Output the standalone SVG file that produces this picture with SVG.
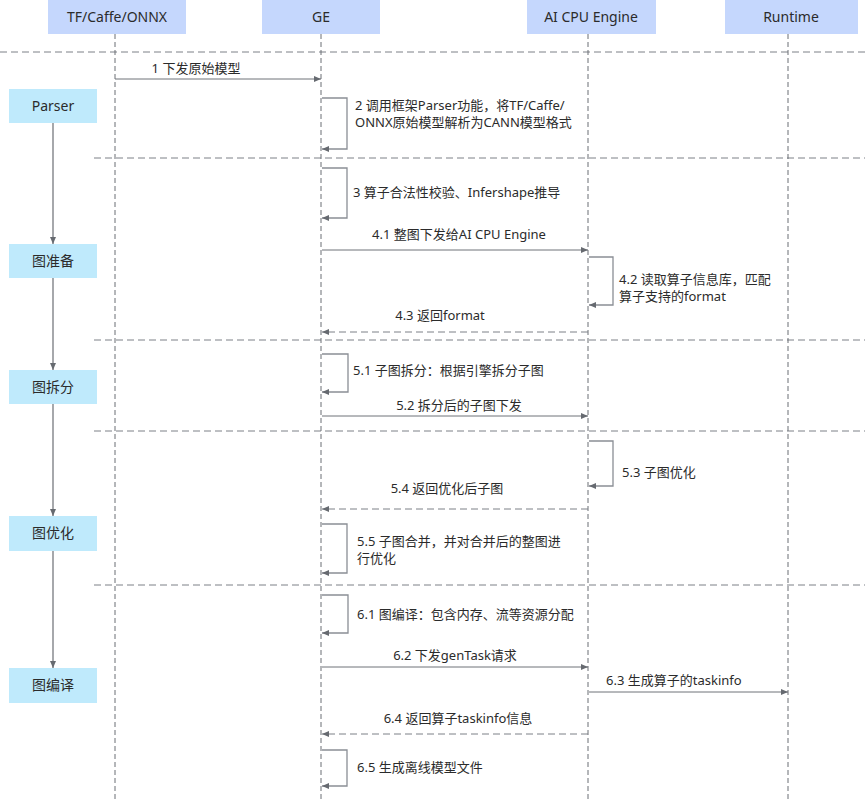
<svg xmlns="http://www.w3.org/2000/svg" width="865" height="803" viewBox="0 0 865 803">
<style>
text{font-family:"Noto Sans","Noto Sans CJK SC",sans-serif;fill:#2b2b2b;}
.hd{fill:#c5d7fd;}
.st{fill:#bfeafc;}
.ht{font-size:14px;text-anchor:middle;}
.lb{font-size:13px;}
.mid{text-anchor:middle;}
.life{stroke:#6b6e74;stroke-width:1;stroke-dasharray:5,3;fill:none;}
.sep{stroke:#7d8087;stroke-width:1;stroke-dasharray:7,4;fill:none;}
.msg{stroke:#6f7379;stroke-width:1;fill:none;marker-end:url(#ah);}
.ret{stroke:#7d8087;stroke-width:1;stroke-dasharray:7,4;fill:none;marker-end:url(#ah);}
.loop{stroke:#8a8e95;stroke-width:1.3;fill:none;marker-end:url(#ah);}
.flow{stroke:#6b6e74;stroke-width:1.2;fill:none;marker-end:url(#ah);}
</style>
<defs>
<marker id="ah" markerWidth="8" markerHeight="8" refX="7" refY="4" orient="auto" markerUnits="userSpaceOnUse">
<path d="M0,1 L7,4 L0,7 Z" fill="#666a70"/>
</marker>
</defs>
<rect width="865" height="803" fill="#ffffff"/>
<g id="separators">
<line class="sep" x1="0" y1="52" x2="865" y2="52"/>
<line class="sep" x1="94" y1="158" x2="865" y2="158"/>
<line class="sep" x1="94" y1="340" x2="865" y2="340"/>
<line class="sep" x1="94" y1="431" x2="865" y2="431"/>
<line class="sep" x1="94" y1="585" x2="865" y2="585"/>
</g>
<g id="lifelines">
<line class="life" x1="115" y1="34" x2="115" y2="800"/>
<line class="life" x1="321" y1="34" x2="321" y2="800"/>
<line class="life" x1="588" y1="34" x2="588" y2="800"/>
<line class="life" x1="788" y1="34" x2="788" y2="800"/>
</g>
<g id="p-tf"><rect class="hd" x="48" y="0" width="138" height="34"/><text class="ht" x="117" y="22">TF/Caffe/ONNX</text></g>
<g id="p-ge"><rect class="hd" x="262" y="0" width="118" height="34"/><text class="ht" x="321" y="22">GE</text></g>
<g id="p-aicpu"><rect class="hd" x="527" y="0" width="129" height="34"/><text class="ht" x="591" y="22">AI CPU Engine</text></g>
<g id="p-runtime"><rect class="hd" x="725" y="0" width="133" height="34"/><text class="ht" x="791" y="22">Runtime</text></g>
<g id="s-parser"><rect class="st" x="9" y="89" width="88" height="34"/><text class="ht" x="53" y="111">Parser</text></g>
<g id="s-prep"><rect class="st" x="9" y="244" width="88" height="34"/><text class="ht" x="53" y="266">图准备</text></g>
<g id="s-split"><rect class="st" x="9" y="370" width="88" height="34"/><text class="ht" x="53" y="392">图拆分</text></g>
<g id="s-opt"><rect class="st" x="9" y="516" width="88" height="35"/><text class="ht" x="53" y="538">图优化</text></g>
<g id="s-compile"><rect class="st" x="9" y="668" width="88" height="35"/><text class="ht" x="53" y="690">图编译</text></g>
<g id="connectors">
<line class="flow" x1="53" y1="123" x2="53" y2="244"/>
<line class="flow" x1="53" y1="278" x2="53" y2="370"/>
<line class="flow" x1="53" y1="404" x2="53" y2="516"/>
<line class="flow" x1="53" y1="551" x2="53" y2="668"/>
<line class="msg" x1="115" y1="79" x2="321" y2="79"/>
<polyline class="loop" points="322,98 347,98 347,149 322,149"/>
<polyline class="loop" points="322,168 347,168 347,218 322,218"/>
<line class="msg" x1="322" y1="250" x2="588" y2="250"/>
<polyline class="loop" points="589,257 613,257 613,305 589,305"/>
<line class="ret" x1="588" y1="332" x2="322" y2="332"/>
<polyline class="loop" points="322,354 348,354 348,392 322,392"/>
<line class="msg" x1="322" y1="416" x2="588" y2="416"/>
<polyline class="loop" points="589,441 613,441 613,486 589,486"/>
<line class="ret" x1="588" y1="509" x2="322" y2="509"/>
<polyline class="loop" points="322,524 347,524 347,573 322,573"/>
<polyline class="loop" points="322,595 348,595 348,633 322,633"/>
<line class="msg" x1="322" y1="667" x2="588" y2="667"/>
<line class="msg" x1="589" y1="692" x2="788" y2="692"/>
<line class="ret" x1="588" y1="734" x2="322" y2="734"/>
<polyline class="loop" points="322,750 347,750 347,786 322,786"/>
</g>
<g id="labels">
<text class="lb mid" x="196" y="73">1 下发原始模型</text>
<text class="lb" x="355" y="110">2 调用框架Parser功能，将TF/Caffe/</text>
<text class="lb" x="355" y="127">ONNX原始模型解析为CANN模型格式</text>
<text class="lb" x="353" y="197">3 算子合法性校验、Infershape推导</text>
<text class="lb mid" x="459" y="239">4.1 整图下发给AI CPU Engine</text>
<text class="lb" x="619" y="284">4.2 读取算子信息库，匹配</text>
<text class="lb" x="619" y="301">算子支持的format</text>
<text class="lb mid" x="440" y="320">4.3 返回format</text>
<text class="lb" x="353" y="375">5.1 子图拆分：根据引擎拆分子图</text>
<text class="lb mid" x="459" y="410">5.2 拆分后的子图下发</text>
<text class="lb" x="622" y="477">5.3 子图优化</text>
<text class="lb mid" x="447" y="493">5.4 返回优化后子图</text>
<text class="lb" x="357" y="546">5.5 子图合并，并对合并后的整图进</text>
<text class="lb" x="357" y="563">行优化</text>
<text class="lb" x="357" y="619">6.1 图编译：包含内存、流等资源分配</text>
<text class="lb mid" x="455" y="660">6.2 下发genTask请求</text>
<text class="lb" x="606" y="685">6.3 生成算子的taskinfo</text>
<text class="lb mid" x="458" y="723">6.4 返回算子taskinfo信息</text>
<text class="lb" x="357" y="772">6.5 生成离线模型文件</text>
</g>
</svg>
